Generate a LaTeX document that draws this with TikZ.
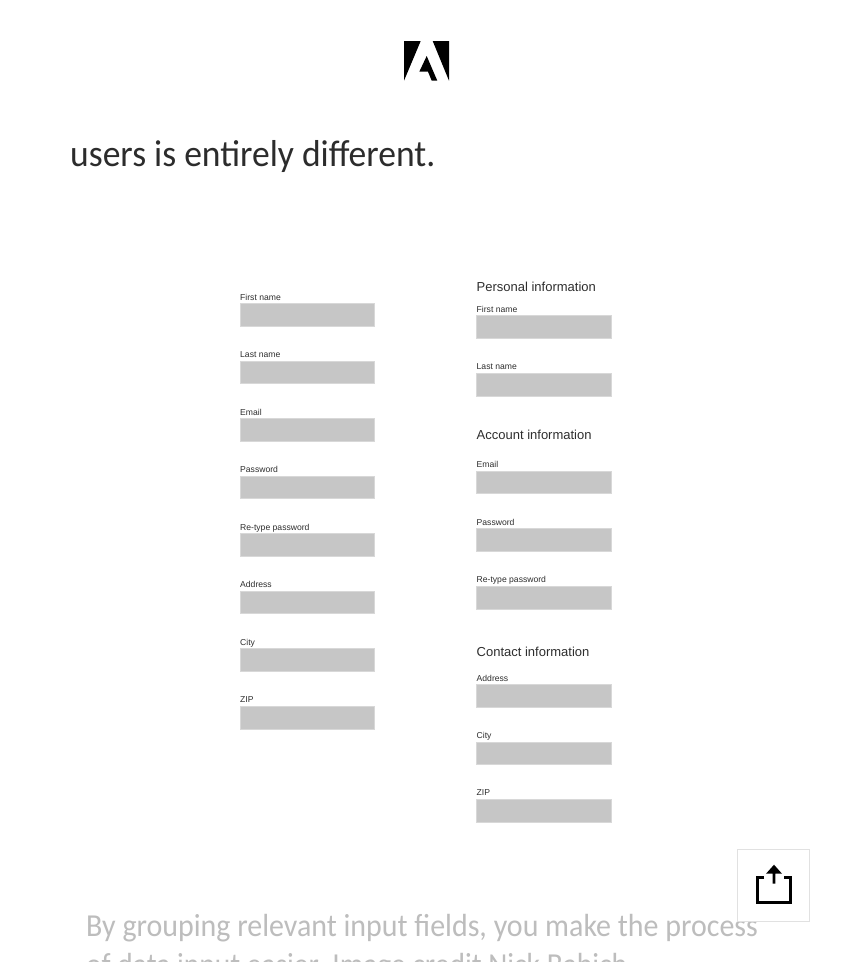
\documentclass[tikz,border=0pt]{standalone}
\usepackage{fontspec}
\setmainfont{Carlito}
\newfontfamily\bodyfont[FakeStretch=0.948]{Carlito}
\newfontfamily\capfont[FakeStretch=0.936]{Carlito}
\newfontfamily\capfontb[FakeStretch=0.922]{Carlito}
\newfontfamily\formfont{Liberation Sans}
\definecolor{bodyink}{HTML}{2C2C2C}
\definecolor{capink}{HTML}{BDBDBD}
\definecolor{fieldgray}{HTML}{C6C6C6}
\definecolor{fieldedge}{HTML}{D8D8D8}
\definecolor{boxedge}{HTML}{E1E1E1}
\definecolor{labelink}{HTML}{2E2E2E}
\tikzset{
  fieldbox/.style={draw=fieldedge,line width=0.6pt,fill=fieldgray,minimum width=134.5pt,minimum height=22.5pt,inner sep=0pt,outer sep=0pt},
  fieldlabel/.style={font=\formfont\fontsize{8.6}{10}\selectfont,text=labelink,anchor=base west,inner sep=0pt},
  grouphead/.style={font=\formfont\fontsize{13}{15}\selectfont,text=labelink,anchor=base west,inner sep=0pt},
  bodytext/.style={font=\bodyfont\fontsize{37.5}{44}\selectfont,text=bodyink,anchor=base west,inner sep=0pt},
  captext/.style={font=\capfont\fontsize{32}{38}\selectfont,text=capink,anchor=base west,inner sep=0pt},
  captextb/.style={font=\capfontb\fontsize{32}{38}\selectfont,text=capink,anchor=base west,inner sep=0pt},
}
\newcommand{\formfield}[5]{% name, x, label baseline, field centre y, text
  \node[fieldlabel] (#1l) at (#2,#3) {#5};
  \node[fieldbox,anchor=center] (#1f) at (#2+67.25,#4) {};
}
\begin{document}
\begin{tikzpicture}[x=1pt,y=-1pt]
\useasboundingbox (0,0) rectangle (850,962);
\fill[white] (0,0) rectangle (850,962);
\begin{scope}
\clip (0,0) rectangle (850,962);
% logo
\fill[black] (404,41) -- (420.7,41) -- (404,80.7) -- cycle;
\fill[black] (432.7,41) -- (449,41) -- (449,80.7) -- cycle;
\fill[black] (426.7,56) -- (437.3,80.7) -- (431.7,80.7) -- (428,71.7) -- (419.3,71.7) -- cycle;
% body line
\node[bodytext] (body) at (70,166) {users is entirely different.};
% left column
\formfield{a}{240}{300}{315}{First name}
\formfield{b}{240}{357.5}{372.5}{Last name}
\formfield{c}{240}{415}{430}{Email}
\formfield{d}{240}{472.5}{487.5}{Password}
\formfield{e}{240}{530}{545}{Re-type password}
\formfield{f}{240}{587.5}{602.5}{Address}
\formfield{g}{240}{645}{660}{City}
\formfield{h}{240}{702.5}{718}{ZIP}
% right column
\node[grouphead] (h1) at (476.5,291.5) {Personal information};
\formfield{i}{476.5}{312}{327}{First name}
\formfield{j}{476.5}{369.5}{385}{Last name}
\node[grouphead] (h2) at (476.5,439.5) {Account information};
\formfield{k}{476.5}{467.5}{482.5}{Email}
\formfield{l}{476.5}{525}{540}{Password}
\formfield{m}{476.5}{582.5}{598}{Re-type password}
\node[grouphead] (h3) at (476.5,656.5) {Contact information};
\formfield{n}{476.5}{681}{696}{Address}
\formfield{o}{476.5}{738}{753.5}{City}
\formfield{p}{476.5}{795.5}{811}{ZIP}
% caption
\node[captext] (cap1) at (86,936.5) {By grouping relevant input fields, you make the process};
\node[captextb] (cap2) at (86,975) {of data input easier. Image credit Nick Babich};
% share button
\node[draw=boxedge,line width=1pt,fill=white,minimum width=72pt,minimum height=72pt,inner sep=0pt,anchor=center] (share) at (773,885) {};
\draw[black,line width=3pt,line join=miter] (764,877.5) -- (757.5,877.5) -- (757.5,902) -- (790.5,902) -- (790.5,877.5) -- (784,877.5);
\fill[black] (774,864.7) -- (782,873.7) -- (775.4,873.7) -- (775.4,883.5) -- (772.6,883.5) -- (772.6,873.7) -- (766,873.7) -- cycle;
\end{scope}
\end{tikzpicture}
\end{document}
